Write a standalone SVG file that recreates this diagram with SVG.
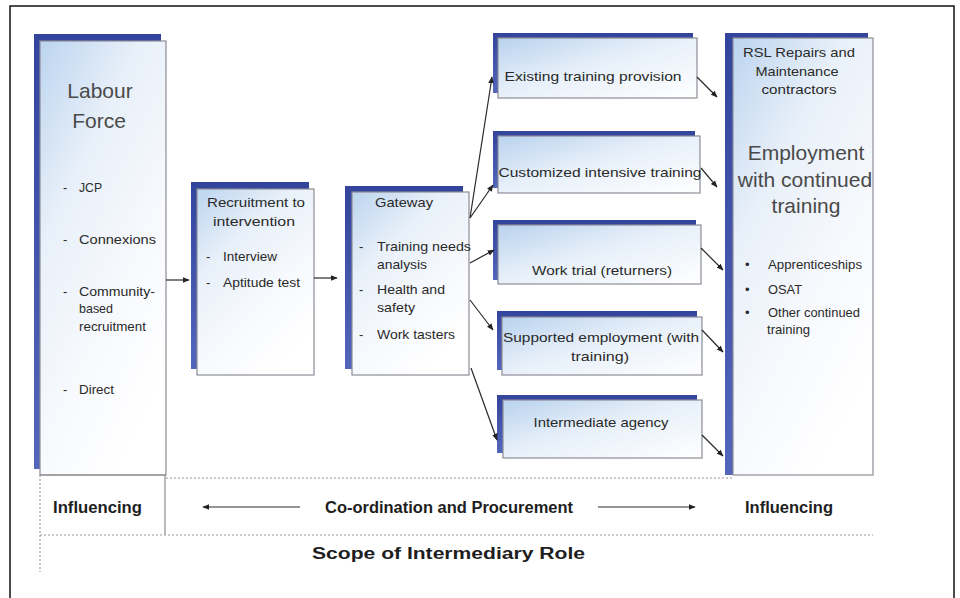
<svg xmlns="http://www.w3.org/2000/svg" width="960" height="598" viewBox="0 0 960 598">
  <defs>
    <linearGradient id="boxFill" x1="0" y1="0" x2="1" y2="1">
      <stop offset="0" stop-color="#b9d2ee"/>
      <stop offset="0.45" stop-color="#e6eff9"/>
      <stop offset="1" stop-color="#ffffff"/>
    </linearGradient>
    <linearGradient id="tallFill" x1="0" y1="0" x2="0.6" y2="1">
      <stop offset="0" stop-color="#bcd4ef"/>
      <stop offset="0.35" stop-color="#e8f0f9"/>
      <stop offset="0.7" stop-color="#f7f9fd"/>
      <stop offset="1" stop-color="#ffffff"/>
    </linearGradient>
    <linearGradient id="edgeFill" x1="0" y1="0" x2="0" y2="1">
      <stop offset="0" stop-color="#33449c"/>
      <stop offset="1" stop-color="#5266bb"/>
    </linearGradient>
    <marker id="arrow" viewBox="0 0 10 10" refX="9" refY="5" markerWidth="7" markerHeight="7" markerUnits="userSpaceOnUse" orient="auto">
      <path d="M0,1 L10,5 L0,9 Z" fill="#222"/>
    </marker>
  </defs>
  <style>
    .edge { fill: url(#edgeFill); }
    .face { fill: url(#boxFill); stroke: #8c8c96; stroke-width: 1.2; }
    .tall { fill: url(#tallFill); stroke: #8c8c96; stroke-width: 1.2; }
    .t { font-family: "Liberation Sans", Arial, sans-serif; font-size: 13px; fill: #2a2a2a; }
    .big { font-family: "Liberation Sans", Arial, sans-serif; font-size: 21px; fill: #4a4a4a; }
    .lbl { font-family: "Liberation Sans", Arial, sans-serif; font-size: 16px; font-weight: bold; fill: #1e1e1e; }
    .conn { stroke: #2a2a2a; stroke-width: 1.2; fill: none; marker-end: url(#arrow); }
    .frame { stroke: #8c8c8c; stroke-width: 1.2; fill: none; }
    .dots { stroke: #9a9a9a; stroke-width: 1.2; stroke-dasharray: 2 2; fill: none; }
  </style>

  <rect width="960" height="598" fill="#ffffff"/>
  <!-- outer border -->
  <path d="M10,610 V6 H954 V610" fill="none" stroke="#111" stroke-width="1.5"/>

  <!-- Labour Force -->
  <g id="labour-force">
    <rect class="edge" x="34" y="34" width="127" height="435"/>
    <rect class="tall" x="40" y="41" width="126" height="434"/>
    <text class="big" x="100" y="98" text-anchor="middle">Labour</text>
    <text class="big" x="99" y="128" text-anchor="middle">Force</text>
    <text class="t" x="63" y="192">-</text>
    <text class="t" x="79" y="192" textLength="23" lengthAdjust="spacingAndGlyphs">JCP</text>
    <text class="t" x="63" y="244">-</text>
    <text class="t" x="79" y="244" textLength="77" lengthAdjust="spacingAndGlyphs">Connexions</text>
    <text class="t" x="63" y="296">-</text>
    <text class="t" x="79" y="296" textLength="76" lengthAdjust="spacingAndGlyphs">Community-</text>
    <text class="t" x="79" y="313" textLength="34" lengthAdjust="spacingAndGlyphs">based</text>
    <text class="t" x="79" y="331" textLength="67" lengthAdjust="spacingAndGlyphs">recruitment</text>
    <text class="t" x="63" y="394">-</text>
    <text class="t" x="79" y="394" textLength="35" lengthAdjust="spacingAndGlyphs">Direct</text>
  </g>

  <!-- Recruitment to intervention -->
  <g id="recruitment">
    <rect class="edge" x="191" y="182" width="118" height="187"/>
    <rect class="tall" x="197" y="189" width="117" height="186"/>
    <text class="t" x="256" y="207" text-anchor="middle" textLength="98" lengthAdjust="spacingAndGlyphs">Recruitment to</text>
    <text class="t" x="254" y="226" text-anchor="middle" textLength="82" lengthAdjust="spacingAndGlyphs">intervention</text>
    <text class="t" x="206" y="261">-</text>
    <text class="t" x="223" y="261" textLength="54" lengthAdjust="spacingAndGlyphs">Interview</text>
    <text class="t" x="206" y="287">-</text>
    <text class="t" x="223" y="287" textLength="77" lengthAdjust="spacingAndGlyphs">Aptitude test</text>
  </g>

  <!-- Gateway -->
  <g id="gateway">
    <rect class="edge" x="345" y="186" width="118" height="183"/>
    <rect class="tall" x="352" y="192" width="117" height="183"/>
    <text class="t" x="404" y="207" text-anchor="middle" textLength="58" lengthAdjust="spacingAndGlyphs">Gateway</text>
    <text class="t" x="359" y="251">-</text>
    <text class="t" x="377" y="251" textLength="94" lengthAdjust="spacingAndGlyphs">Training needs</text>
    <text class="t" x="377" y="269" textLength="50" lengthAdjust="spacingAndGlyphs">analysis</text>
    <text class="t" x="359" y="294">-</text>
    <text class="t" x="377" y="294" textLength="68" lengthAdjust="spacingAndGlyphs">Health and</text>
    <text class="t" x="377" y="312" textLength="38" lengthAdjust="spacingAndGlyphs">safety</text>
    <text class="t" x="359" y="339">-</text>
    <text class="t" x="377" y="339" textLength="78" lengthAdjust="spacingAndGlyphs">Work tasters</text>
  </g>

  <!-- Route boxes -->
  <g id="existing-training">
    <rect class="edge" x="493" y="33" width="200" height="60"/>
    <rect class="face" x="498" y="38" width="199" height="60"/>
    <text class="t" x="593" y="81" text-anchor="middle" textLength="177" lengthAdjust="spacingAndGlyphs">Existing training provision</text>
  </g>
  <g id="customized-training">
    <rect class="edge" x="493" y="131" width="202" height="57"/>
    <rect class="face" x="498" y="136" width="202" height="57"/>
    <text class="t" x="600" y="177" text-anchor="middle" textLength="203" lengthAdjust="spacingAndGlyphs">Customized intensive training</text>
  </g>
  <g id="work-trial">
    <rect class="edge" x="493" y="220" width="203" height="60"/>
    <rect class="face" x="498" y="225" width="203" height="59"/>
    <text class="t" x="602" y="275" text-anchor="middle" textLength="140" lengthAdjust="spacingAndGlyphs">Work trial (returners)</text>
  </g>
  <g id="supported-employment">
    <rect class="edge" x="497" y="311" width="200" height="59"/>
    <rect class="face" x="502" y="317" width="200" height="58"/>
    <text class="t" x="601" y="342" text-anchor="middle" textLength="196" lengthAdjust="spacingAndGlyphs">Supported employment (with</text>
    <text class="t" x="600" y="361" text-anchor="middle" textLength="58" lengthAdjust="spacingAndGlyphs">training)</text>
  </g>
  <g id="intermediate-agency">
    <rect class="edge" x="497" y="395" width="200" height="58"/>
    <rect class="face" x="503" y="400" width="199" height="58"/>
    <text class="t" x="601" y="427" text-anchor="middle" textLength="135" lengthAdjust="spacingAndGlyphs">Intermediate agency</text>
  </g>

  <!-- Employment with continued training -->
  <g id="employment">
    <rect class="edge" x="725" y="33" width="143" height="442"/>
    <rect class="tall" x="733" y="38" width="140" height="437"/>
    <text class="t" x="799" y="57" text-anchor="middle" textLength="112" lengthAdjust="spacingAndGlyphs" fill="#333">RSL Repairs and</text>
    <text class="t" x="797" y="76" text-anchor="middle" textLength="83" lengthAdjust="spacingAndGlyphs">Maintenance</text>
    <text class="t" x="799" y="94" text-anchor="middle" textLength="75" lengthAdjust="spacingAndGlyphs">contractors</text>
    <text class="big" x="806" y="160" text-anchor="middle" font-size="22">Employment</text>
    <text class="big" x="805" y="187" text-anchor="middle" font-size="22">with continued</text>
    <text class="big" x="806" y="213" text-anchor="middle" font-size="22">training</text>
    <text class="t" x="745" y="269">•</text>
    <text class="t" x="768" y="269" textLength="94" lengthAdjust="spacingAndGlyphs">Apprenticeships</text>
    <text class="t" x="745" y="294">•</text>
    <text class="t" x="768" y="294" textLength="34" lengthAdjust="spacingAndGlyphs">OSAT</text>
    <text class="t" x="745" y="317">•</text>
    <text class="t" x="768" y="317" textLength="92" lengthAdjust="spacingAndGlyphs">Other continued</text>
    <text class="t" x="767" y="334" textLength="43" lengthAdjust="spacingAndGlyphs">training</text>
  </g>

  <!-- Connectors -->
  <g id="connectors">
    <line class="conn" x1="166" y1="280" x2="189" y2="280"/>
    <line class="conn" x1="314" y1="278" x2="337" y2="278"/>
    <line class="conn" x1="470" y1="218" x2="492" y2="77"/>
    <line class="conn" x1="470" y1="218" x2="493" y2="185"/>
    <line class="conn" x1="470" y1="263" x2="494" y2="250"/>
    <line class="conn" x1="470" y1="300" x2="493" y2="330"/>
    <line class="conn" x1="471" y1="368" x2="497" y2="440"/>
    <line class="conn" x1="697" y1="77" x2="717" y2="97"/>
    <line class="conn" x1="701" y1="168" x2="717" y2="187"/>
    <line class="conn" x1="701" y1="248" x2="723" y2="270"/>
    <line class="conn" x1="702" y1="330" x2="723" y2="352"/>
    <line class="conn" x1="702" y1="435" x2="723" y2="456"/>
  </g>

  <!-- Scope band -->
  <g id="scope">
    <line class="frame" x1="40" y1="475" x2="166" y2="475"/>
    <line class="dots" x1="166" y1="478" x2="733" y2="478"/>
    <line class="frame" x1="165" y1="475" x2="165" y2="535"/>
    <line class="dots" x1="40" y1="475" x2="40" y2="572"/>
    <line class="dots" x1="40" y1="535" x2="873" y2="535"/>
    <text class="lbl" x="53" y="513" textLength="89" lengthAdjust="spacingAndGlyphs">Influencing</text>
    <text class="lbl" x="325" y="513" textLength="248" lengthAdjust="spacingAndGlyphs">Co-ordination and Procurement</text>
    <text class="lbl" x="745" y="513" textLength="88" lengthAdjust="spacingAndGlyphs">Influencing</text>
    <text class="lbl" x="312" y="559" font-size="19" textLength="273" lengthAdjust="spacingAndGlyphs">Scope of Intermediary Role</text>
    <line class="conn" x1="300" y1="507" x2="203" y2="507"/>
    <line class="conn" x1="598" y1="507" x2="695" y2="507"/>
  </g>
</svg>
